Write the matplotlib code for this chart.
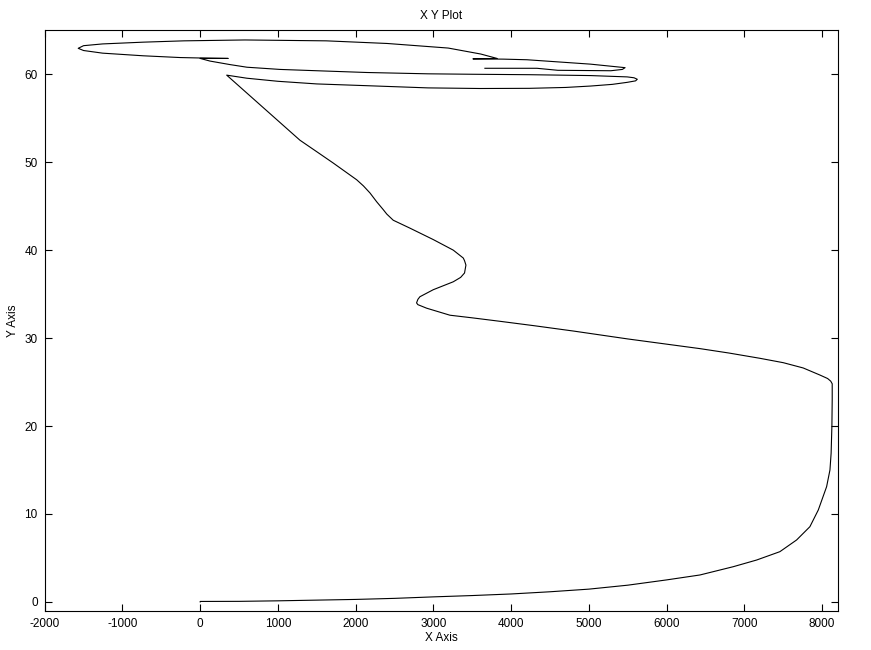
import matplotlib
matplotlib.use("Agg")
import matplotlib.pyplot as plt

plt.rcParams['font.family'] = ['Liberation Sans', 'DejaVu Sans']
plt.rcParams['axes.unicode_minus'] = False

# trajectory points (x, y), in drawing order
x_vals = [0, 0, 500, 1000, 1500, 2000, 2500, 3000, 3500, 4000, 4500, 5000, 5500, 6000,
          6428, 6856, 7157, 7456, 7671, 7842, 7950, 8057, 8100, 8115, 8125, 8129, 8129,
          8110, 8070, 7970, 7756, 7500, 7199, 6800, 6428, 5500, 4800, 4300, 3862, 3500,
          3212, 2912, 2800, 2783, 2800, 2826, 2998, 3255, 3350, 3400, 3418, 3400, 3384,
          3255, 2998, 2698, 2483, 2400, 2355, 2270, 2184, 2100, 2013, 1712, 1498, 1283,
          341,
          600, 1000, 1500, 2144, 2929, 3600, 4236, 4700, 5021, 5300, 5492, 5600, 5622,
          5580, 5492, 5021, 4236, 3500, 2929, 2144, 1500, 1026, 602, 383, 126, 0,
          360, 0,
          -257, -732, -1255, -1500, -1569,
          -1500, -1255, -732, -209, 575, 1621, 2406, 3190, 3609, 3818,
          3508, 3900, 4203, 5021, 5465, 5430, 5282, 4600, 4331, 3662]
y_vals = [0, 0.05, 0.06, 0.12, 0.2, 0.28, 0.4, 0.57, 0.72, 0.9, 1.15, 1.45, 1.9, 2.5,
          3.06, 4.0, 4.76, 5.71, 7.04, 8.55, 10.45, 13.1, 15.0, 16.9, 20.0, 23.0, 24.8,
          25.1, 25.4, 25.8, 26.6, 27.2, 27.7, 28.3, 28.8, 29.9, 30.8, 31.4, 31.9, 32.3,
          32.6, 33.4, 33.8, 34.0, 34.4, 34.7, 35.5, 36.4, 36.9, 37.4, 38.3, 38.8, 39.1,
          40.0, 41.2, 42.5, 43.4, 44.1, 44.6, 45.5, 46.5, 47.3, 48.0, 49.9, 51.2, 52.5,
          59.9,
          59.55, 59.2, 58.9, 58.7, 58.45, 58.38, 58.4, 58.5, 58.66, 58.85, 59.08, 59.25, 59.43,
          59.6, 59.7, 59.85, 59.95, 60.0, 60.05, 60.2, 60.4, 60.55, 60.8, 61.1, 61.5, 61.8,
          61.8, 61.85,
          61.9, 62.1, 62.4, 62.7, 62.95,
          63.25, 63.45, 63.65, 63.8, 63.9, 63.8, 63.5, 62.98, 62.3, 61.8,
          61.75, 61.72, 61.65, 61.15, 60.75, 60.55, 60.4, 60.45, 60.68, 60.68]

x_ticks = [-2000, -1000, 0, 1000, 2000, 3000, 4000, 5000, 6000, 7000, 8000]
y_ticks = [0, 10, 20, 30, 40, 50, 60]

fig = plt.figure(figsize=(8.71, 6.5), dpi=100)
ax = fig.add_axes([0.0513, 0.0605, 0.9105, 0.8929])
ax.plot(x_vals, y_vals, color='black', linewidth=0.8)
ax.set_xlim(-2000, 8200)
ax.set_ylim(-1, 65)
ax.set_xticks(x_ticks)
ax.set_yticks(y_ticks)
ax.tick_params(direction='in', length=5, width=0.8, top=True, right=True,
               labelsize=8.5, pad=5)
for s in ax.spines.values():
    s.set_linewidth(0.8)
ax.set_title('X Y Plot', fontsize=8.5, pad=8)
ax.set_xlabel('X Axis', fontsize=8.5, labelpad=2)
ax.set_ylabel('Y Axis', fontsize=8.5, labelpad=4)
fig.savefig('out.png', dpi=100)
